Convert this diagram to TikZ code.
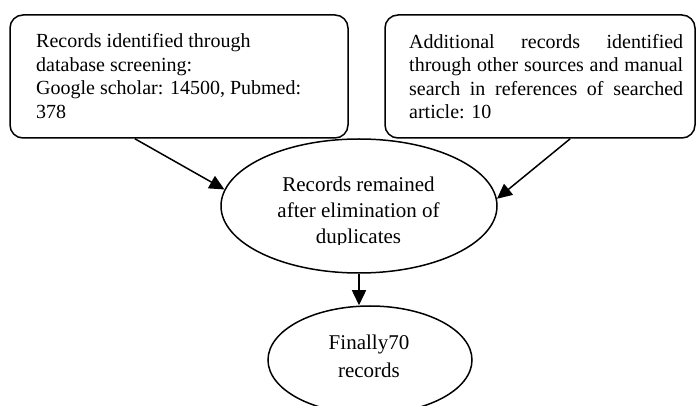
\documentclass[tikz,border=0pt]{standalone}
\usepackage{fontspec}
\setmainfont{Liberation Serif}
\usetikzlibrary{shapes.geometric,arrows.meta,calc}
\begin{document}
\begin{tikzpicture}[x=1pt,y=-1pt,
  box/.style={draw, line width=1.5pt, rounded corners=13pt, inner sep=0pt},
  oval/.style={draw, ellipse, line width=1.5pt, inner sep=0pt},
  txt/.style={inner sep=0pt, anchor=base west, font=\fontsize{20}{23.5}\selectfont},
  etxt/.style={inner sep=0pt, anchor=base, font=\fontsize{21}{26}\selectfont},
  arr/.style={line width=1.5pt, -{Triangle[length=15pt,width=14pt]}}]
\useasboundingbox (0,0) rectangle (697,406);
\clip (0,0) rectangle (697,406);
\node[box, minimum width=338pt, minimum height=123pt] (lbox) at (179,76.5) {};
\node[box, minimum width=310pt, minimum height=123pt] (rbox) at (540,76.5) {};
\node[txt] (ltext) at (36,48) {\parbox[t]{266pt}{\raggedright Records identified through\\ database screening:\\ Google scholar: 14500, Pubmed:\\ 378}};
\node[txt] (rtext) at (409,48.5) {\parbox[t]{274pt}{%
\hbox to 274pt{Additional\hfill records\hfill identified}%
\hbox to 274pt{through other sources and manual}%
\hbox to 274pt{search\hfill in\hfill references\hfill of\hfill searched}%
\hbox to 274pt{article: 10\hfill}}};
\node[oval, minimum width=276pt, minimum height=134pt] (e1) at (359,206) {};
\node[oval, minimum width=204pt, minimum height=108pt] (e2) at (370,360) {};
\begin{scope}
\clip (200,150) rectangle (520,245);
\node[etxt] (e1text) at (358.5,192) {\parbox[t]{240pt}{\centering Records remained\\ after elimination of\\ duplicates}};
\end{scope}
\node[etxt, font=\fontsize{21}{28}\selectfont] (e2text) at (369,350) {\parbox[t]{180pt}{\centering Finally70\\ records}};
\draw[arr] ($(lbox.south west)!0.37!(lbox.south east)$) -- (e1.173);
\draw[arr] ($(rbox.south west)!0.597!(rbox.south east)$) -- (e1.3);
\draw[arr] (e1.south) -- (e1.south |- e2.north);
\end{tikzpicture}
\end{document}
